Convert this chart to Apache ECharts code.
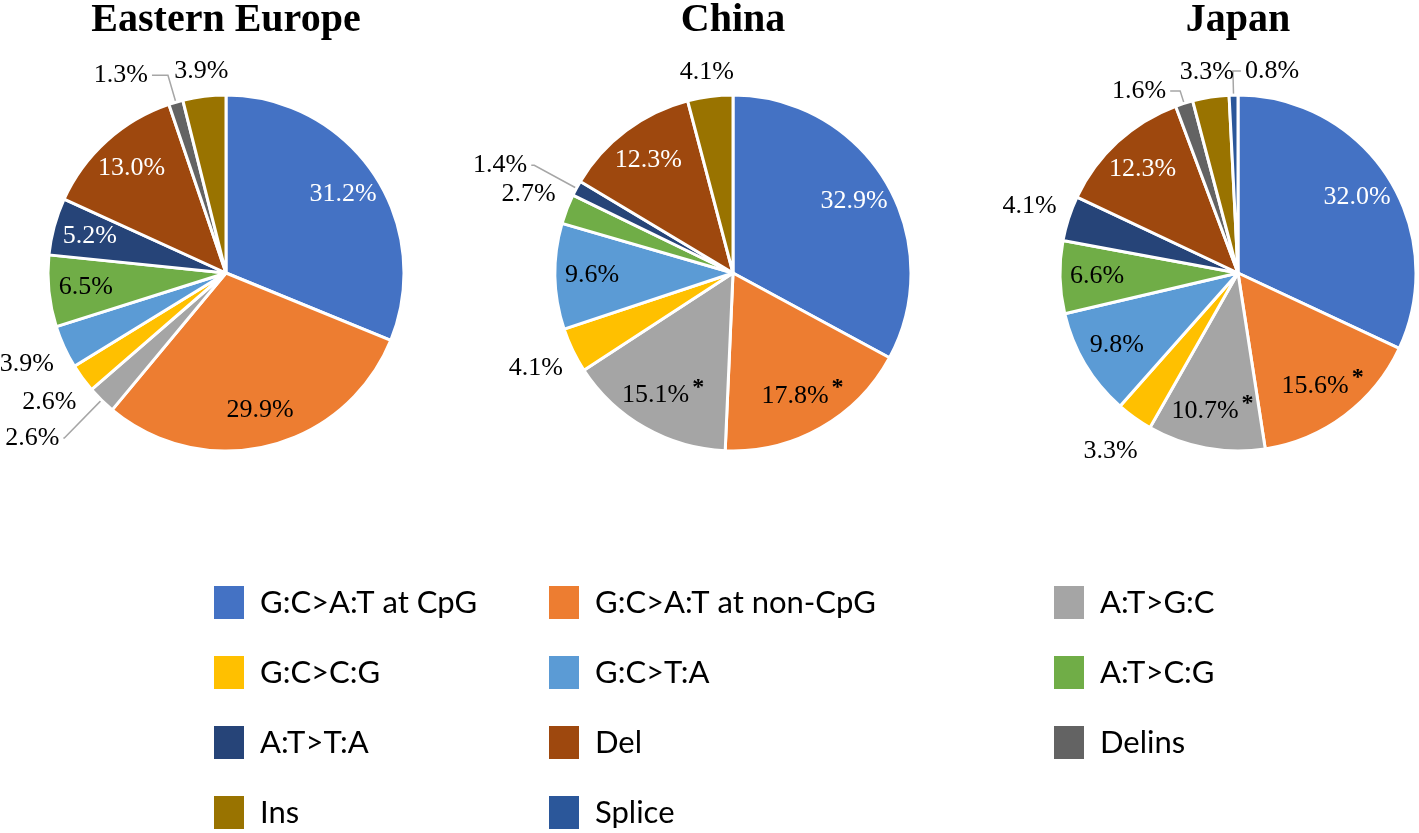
<!DOCTYPE html>
<html>
<head>
<meta charset="utf-8">
<script src="https://cdn.jsdelivr.net/npm/echarts@6/dist/echarts.min.js"></script>
<style>
  html, body { margin: 0; padding: 0; background: #fff; }
  #chart { width: 1419px; height: 833px; }
</style>
</head>
<body>
<div id="chart"></div>
<script>
// ---------------- DATA ----------------
const categories = [
  'G:C>A:T at CpG', 'G:C>A:T at non-CpG', 'A:T>G:C', 'G:C>C:G', 'G:C>T:A',
  'A:T>C:G', 'A:T>T:A', 'Del', 'Delins', 'Ins', 'Splice'
];
const regionNames = ['Eastern Europe', 'China', 'Japan'];
const easternEuropeValues = [31.2, 29.9, 2.6, 2.6, 3.9, 6.5, 5.2, 13.0, 1.3, 3.9, 0];
const chinaValues         = [32.9, 17.8, 15.1, 4.1, 9.6, 2.7, 1.4, 12.3, 0, 4.1, 0];
const japanValues         = [32.0, 15.6, 10.7, 3.3, 9.8, 6.6, 4.1, 12.3, 1.6, 3.3, 0.8];
// categories marked with an asterisk (significant), per region
const easternEuropeSignificant = [];
const chinaSignificant = ['G:C>A:T at non-CpG', 'A:T>G:C'];
const japanSignificant = ['G:C>A:T at non-CpG', 'A:T>G:C'];

// ---------------- STYLE / LAYOUT ----------------
const colors = ['#4472C4', '#ED7D31', '#A5A5A5', '#FFC000', '#5B9BD5', '#70AD47',
                '#264478', '#9E480E', '#636363', '#997300', '#2B579A'];
const whiteText = ['G:C>A:T at CpG', 'A:T>T:A', 'Del'];
const regionLayout = [
  { cx: 226, values: easternEuropeValues, sig: easternEuropeSignificant,
    inside: ['G:C>A:T at CpG', 'G:C>A:T at non-CpG', 'Del', 'A:T>T:A', 'A:T>C:G'],
    lines: { 'A:T>G:C': [53, 1], 'Delins': [28, 16] } },
  { cx: 733, values: chinaValues, sig: chinaSignificant,
    inside: ['G:C>A:T at CpG', 'G:C>A:T at non-CpG', 'A:T>G:C', 'G:C>T:A', 'Del'],
    lines: { 'A:T>T:A': [48, 3] } },
  { cx: 1238, values: japanValues, sig: japanSignificant,
    inside: ['G:C>A:T at CpG', 'G:C>A:T at non-CpG', 'A:T>G:C', 'G:C>T:A', 'A:T>C:G', 'Del'],
    lines: { 'Delins': [13, 10], 'Splice': [24, 8] }, flipRight: ['Splice'] }
];
const CY = 273, R = 178;
const labelFont = 'Liberation Serif, Times New Roman, serif';

function fmt(sig) {
  return function (p) {
    const v = p.value.toFixed(1) + '%';
    return sig.indexOf(p.name) >= 0 ? '{v|' + v + '}{s|*}' : '{v|' + v + '}';
  };
}
function rich(color) {
  return {
    v: { fontFamily: labelFont, fontSize: 26, color: color },
    s: { fontFamily: labelFont, fontSize: 24, fontWeight: 'bold', color: '#000',
         padding: [0, 0, 16, 3] }
  };
}
function labelSeries(name, cx, radius, data) {
  return {
    type: 'pie', name: name,
    center: [cx, CY], radius: radius, startAngle: 90, clockwise: true,
    silent: true, avoidLabelOverlap: false,
    label: { position: 'inside', overflow: 'none' }, labelLine: { show: false },
    emphasis: { disabled: true }, animation: false,
    data: data
  };
}

const series = [];
regionLayout.forEach(function (reg, ri) {
  const visData = [], inData = [], topData = [], sideData = [];
  const total = reg.values.reduce(function (a, b) { return a + b; }, 0);
  let cum = 0;
  categories.forEach(function (name, i) {
    const val = reg.values[i];
    if (!val) return;
    const midAngle = (cum + val / 2) / total * 2 * Math.PI;
    cum += val;
    const inside = reg.inside.indexOf(name) >= 0;
    const line = reg.lines[name];
    const outside = !inside && !line;
    const nearVertical = Math.abs(Math.cos(midAngle)) > 0.85;
    const tcol = whiteText.indexOf(name) >= 0 ? '#fff' : '#000';
    const base = { name: name, value: val, itemStyle: { color: 'transparent' } };
    visData.push({
      name: name, value: val,
      itemStyle: { color: colors[i] },
      label: { show: !!line, formatter: fmt(reg.sig), rich: rich('#000') },
      labelLine: line ? { show: true, length: line[0], length2: line[1] } : { show: false }
    });
    inData.push(Object.assign({}, base, {
      label: { show: inside, formatter: fmt(reg.sig), rich: rich(tcol) } }));
    topData.push(Object.assign({}, base, {
      label: { show: outside && nearVertical, formatter: fmt(reg.sig), rich: rich('#000') } }));
    sideData.push(Object.assign({}, base, {
      label: { show: outside && !nearVertical, formatter: fmt(reg.sig), rich: rich('#000') } }));
  });
  const flip = reg.flipRight || [];
  series.push({
    type: 'pie', name: regionNames[ri],
    center: [reg.cx, CY], radius: [0, R], startAngle: 90, clockwise: true,
    avoidLabelOverlap: false,
    itemStyle: { borderColor: '#fff', borderWidth: 3 },
    label: { position: 'outside', distanceToLabelLine: 4, overflow: 'none' },
    labelLine: { lineStyle: { color: '#a6a6a6', width: 1.5 } },
    labelLayout: function (p) {
      const item = visData[p.dataIndex];
      if (!item || flip.indexOf(item.name) < 0 || !p.labelLinePoints) return {};
      const pts = p.labelLinePoints;
      const kink = pts[1];
      const len2 = Math.abs(pts[2][0] - pts[1][0]);
      return {
        x: kink[0] + len2 + 4, y: kink[1], align: 'left', verticalAlign: 'middle',
        labelLinePoints: [pts[0], kink, [kink[0] + len2, kink[1]]]
      };
    },
    emphasis: { disabled: true },
    animation: false,
    data: visData
  });
  series.push(labelSeries(regionNames[ri] + ' inner labels', reg.cx, [R - 80, R], inData));
  series.push(labelSeries(regionNames[ri] + ' top labels', reg.cx, [R + 2, R + 42], topData));
  series.push(labelSeries(regionNames[ri] + ' side labels', reg.cx, [R + 18, R + 58], sideData));
});

const legendCols = [
  { left: 212, items: [0, 3, 6, 9] },
  { left: 547, items: [1, 4, 7, 10] },
  { left: 1052, items: [2, 5, 8] }
];
const legends = legendCols.map(function (c) {
  return {
    orient: 'vertical', left: c.left, top: 584, height: 300, padding: 0,
    itemWidth: 32, itemHeight: 35, itemGap: 33, icon: 'rect',
    selectedMode: false,
    textStyle: { fontFamily: 'Lato, Open Sans, sans-serif', fontSize: 31, color: '#000',
                 lineHeight: 35, padding: [0, 0, 0, 10] },
    data: c.items.map(function (i) {
      return { name: categories[i], itemStyle: { color: colors[i], opacity: 1 } };
    })
  };
});

const titles = regionLayout.map(function (reg, ri) {
  return {
    text: regionNames[ri], left: reg.cx, top: 1, padding: 0, textAlign: 'center',
    textStyle: { fontFamily: labelFont, fontWeight: 'bold', fontSize: 40, color: '#000' }
  };
});

const chart = echarts.init(document.getElementById('chart'));
chart.setOption({
  backgroundColor: '#fff',
  animation: false,
  title: titles,
  legend: legends,
  series: series
});
</script>
</body>
</html>
